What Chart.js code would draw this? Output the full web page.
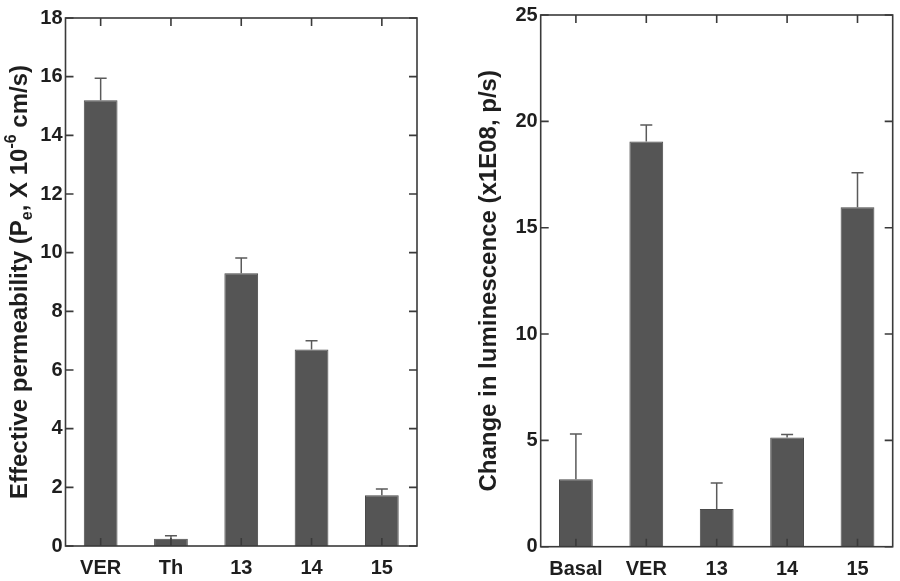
<!DOCTYPE html>
<html>
<head>
<meta charset="utf-8">
<script src="https://cdn.jsdelivr.net/npm/chart.js@4.4.1/dist/chart.umd.min.js"></script>
<style>
  html, body { margin: 0; padding: 0; background: #ffffff; }
  #wrap { position: relative; width: 900px; height: 581px; overflow: hidden; background: #fff; }
  .panel { position: absolute; top: 0; width: 450px; height: 581px; }
</style>
</head>
<body>
<div id="wrap">
  <div class="panel" style="left:0px"><canvas id="c1" width="450" height="581"></canvas></div>
  <div class="panel" style="left:450px"><canvas id="c2" width="450" height="581"></canvas></div>
</div>
<script>
// ---- Data ----
const leftCategories = ['VER', 'Th', '13', '14', '15'];
const leftValues = [15.2, 0.25, 9.3, 6.7, 1.73];
const leftErrors = [0.75, 0.1, 0.52, 0.3, 0.21];
const leftYMax = 18;
const leftYStep = 2;
const leftTitle = [
  { t: 'Effective permeability (P' },
  { t: 'e', sub: true },
  { t: ', X 10' },
  { t: '-6', sup: true },
  { t: ' cm/s)' }
];

const rightCategories = ['Basal', 'VER', '13', '14', '15'];
const rightValues = [3.17, 19.05, 1.77, 5.13, 15.96];
const rightErrors = [2.13, 0.78, 1.23, 0.15, 1.62];
const rightYMax = 25;
const rightYStep = 5;
const rightTitle = [
  { t: 'Change in luminescence (x1E08, p/s)' }
];

// ---- Styling ----
const FONT = '"Liberation Sans", Arial, Helvetica, sans-serif';
const BAR_COLOR = '#555555';
const AXIS_COLOR = '#3a3a3a';
const TEXT_COLOR = '#1e1e1e';

function makeChart(canvasId, cats, vals, errs, yMax, yStep, titleParts, geo) {
  const framePlugin = {
    id: 'frameTicks',
    afterDatasetsDraw(chart) {
      const ctx = chart.ctx;
      const a = chart.chartArea;
      const xs = chart.scales.x, ys = chart.scales.y;
      ctx.save();
      // error bars (upper only)
      ctx.strokeStyle = '#5a5a5a';
      ctx.lineWidth = 1.5;
      vals.forEach((v, i) => {
        const x = xs.getPixelForValue(i);
        const y0 = ys.getPixelForValue(v);
        const y1 = ys.getPixelForValue(v + errs[i]);
        ctx.beginPath();
        ctx.moveTo(x, y0);
        ctx.lineTo(x, y1);
        ctx.moveTo(x - 6, y1);
        ctx.lineTo(x + 6, y1);
        ctx.stroke();
      });
      // frame
      ctx.strokeStyle = AXIS_COLOR;
      ctx.lineWidth = 1.6;
      ctx.strokeRect(a.left, a.top, a.right - a.left, a.bottom - a.top);
      // inward ticks
      const tl = 8;
      ctx.beginPath();
      cats.forEach((c, i) => {
        const x = xs.getPixelForValue(i);
        ctx.moveTo(x, a.bottom); ctx.lineTo(x, a.bottom - tl);
        ctx.moveTo(x, a.top); ctx.lineTo(x, a.top + tl);
      });
      ys.ticks.forEach(t => {
        const y = ys.getPixelForValue(t.value);
        ctx.moveTo(a.left, y); ctx.lineTo(a.left + tl, y);
        ctx.moveTo(a.right, y); ctx.lineTo(a.right - tl, y);
      });
      ctx.stroke();
      ctx.restore();
    },
    afterDraw(chart) {
      // rotated y-axis title with sub/superscripts
      const ctx = chart.ctx;
      const a = chart.chartArea;
      const base = geo.titleSize;
      const small = Math.round(base * 0.68);
      ctx.save();
      ctx.fillStyle = TEXT_COLOR;
      ctx.textBaseline = 'alphabetic';
      ctx.textAlign = 'left';
      const fontFor = p => 'bold ' + ((p.sub || p.sup) ? small : base) + 'px ' + FONT;
      let total = 0;
      titleParts.forEach(p => { ctx.font = fontFor(p); total += ctx.measureText(p.t).width; });
      ctx.translate(geo.titleX, (a.top + a.bottom) / 2);
      ctx.rotate(-Math.PI / 2);
      let x = -total / 2;
      titleParts.forEach(p => {
        ctx.font = fontFor(p);
        let dy = 0;
        if (p.sub) dy = base * 0.22;
        if (p.sup) dy = -base * 0.42;
        ctx.fillText(p.t, x, dy);
        x += ctx.measureText(p.t).width;
      });
      ctx.restore();
    }
  };

  return new Chart(document.getElementById(canvasId), {
    type: 'bar',
    data: {
      labels: cats,
      datasets: [{
        data: vals,
        backgroundColor: BAR_COLOR,
        borderColor: '#4a4a4a',
        borderWidth: 1,
        categoryPercentage: 1.0,
        barPercentage: 0.48
      }]
    },
    options: {
      responsive: false,
      animation: false,
      devicePixelRatio: 1,
      layout: { padding: { left: 0, right: geo.padRight, top: geo.padTop, bottom: 0 } },
      plugins: { legend: { display: false }, tooltip: { enabled: false }, title: { display: false } },
      scales: {
        x: {
          grid: { display: false, drawTicks: false },
          border: { display: false },
          ticks: { color: TEXT_COLOR, font: { family: FONT, size: 20, weight: 'bold' }, padding: geo.xPad, maxRotation: 0 },
          afterFit(scale) { scale.height = geo.xHeight; }
        },
        y: {
          min: 0, max: yMax,
          grid: { display: false, drawTicks: false },
          border: { display: false },
          ticks: { stepSize: yStep, color: TEXT_COLOR, font: { family: FONT, size: 20, weight: 'bold' }, padding: 3 },
          afterFit(scale) { scale.width = geo.yWidth; }
        }
      }
    },
    plugins: [framePlugin]
  });
}

makeChart('c1', leftCategories, leftValues, leftErrors, leftYMax, leftYStep, leftTitle,
  { padRight: 33, padTop: 18, yWidth: 65.5, xHeight: 35, xPad: 10, titleX: 26.5, titleSize: 24 });
makeChart('c2', rightCategories, rightValues, rightErrors, rightYMax, rightYStep, rightTitle,
  { padRight: 7.3, padTop: 15, yWidth: 90.7, xHeight: 34.3, xPad: 11, titleX: 46, titleSize: 24 });
</script>
</body>
</html>
